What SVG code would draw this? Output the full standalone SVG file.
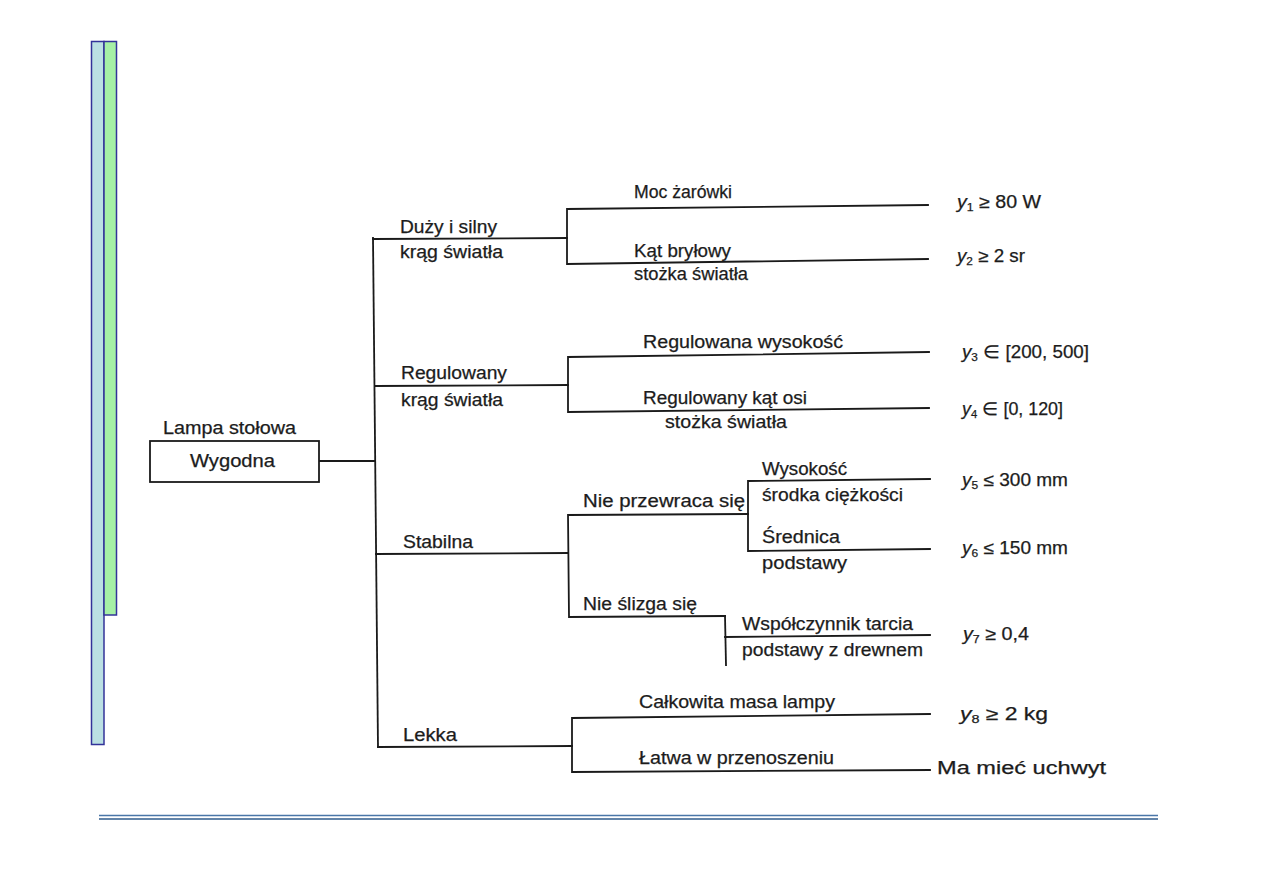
<svg xmlns="http://www.w3.org/2000/svg" width="1263" height="893" viewBox="0 0 1263 893">
<style>
.t{font-family:"Liberation Sans",Arial,Helvetica,sans-serif;font-size:17.5px;fill:#1c1c1c;stroke:#1c1c1c;stroke-width:0.25}
.i{font-style:italic}
.s{font-size:11px}
.ln{stroke:#1a1a1a;stroke-width:1.8;fill:none;stroke-linecap:square}
.bx{stroke:#1a1a1a;stroke-width:1.8;fill:#ffffff}
</style>
<rect width="1263" height="893" fill="#ffffff"/>
<g id="side-bars">
<rect x="91.5" y="41.5" width="12.5" height="703" fill="#bbe0e3" stroke="#333399" stroke-width="1.5"/>
<rect x="104" y="41.5" width="12.5" height="573.5" fill="#a6f0a6" stroke="#333399" stroke-width="1.5"/>
</g>
<g id="footer-rule">
<line x1="99" y1="815.5" x2="1158" y2="815.5" stroke="#4a76a8" stroke-width="1.6"/>
<line x1="99" y1="819" x2="1158" y2="819" stroke="#2f5b8c" stroke-width="1.6"/>
</g>
<g id="connectors">
<polyline class="ln" points="319,461 375,461"/>
<polyline class="ln" points="373,238 378,747"/>
<polyline class="ln" points="373,239 567,238"/>
<polyline class="ln" points="928,205 567,209 567,264 928,259"/>
<polyline class="ln" points="375,386 568,385"/>
<polyline class="ln" points="929,352 568,357 568,412 929,408"/>
<polyline class="ln" points="376,554 568,553"/>
<polyline class="ln" points="748,514 568,515 569,617 725,616"/>
<polyline class="ln" points="930,479 748,481 748,551 930,549"/>
<polyline class="ln" points="725,616 726,665"/>
<polyline class="ln" points="725,637 930,635"/>
<polyline class="ln" points="378,747 572,746"/>
<polyline class="ln" points="930,714 572,718 572,772 930,770"/>
</g>
<g id="root">
<rect class="bx" x="150" y="441" width="169" height="41"/>
<text class="t" x="163" y="434" textLength="133" lengthAdjust="spacingAndGlyphs">Lampa stołowa</text>
<text class="t" x="190" y="467" textLength="85" lengthAdjust="spacingAndGlyphs">Wygodna</text>
</g>
<g id="n-duzy">
<text class="t" x="400" y="233" textLength="97" lengthAdjust="spacingAndGlyphs">Duży i silny</text>
<text class="t" x="400" y="258" textLength="103" lengthAdjust="spacingAndGlyphs">krąg światła</text>
</g>
<g id="n-moc">
<text class="t" x="634" y="198" textLength="98" lengthAdjust="spacingAndGlyphs">Moc żarówki</text>
</g>
<g id="n-kat">
<text class="t" x="634" y="257" textLength="97" lengthAdjust="spacingAndGlyphs">Kąt bryłowy</text>
<text class="t" x="634" y="280" textLength="114" lengthAdjust="spacingAndGlyphs">stożka światła</text>
</g>
<g id="r-y1"><text class="t" x="957" y="208" textLength="84" lengthAdjust="spacingAndGlyphs"><tspan class="i">y</tspan><tspan class="s" dy="3">1</tspan><tspan dy="-3"> ≥ 80 W</tspan></text></g>
<g id="r-y2"><text class="t" x="957" y="262" textLength="68" lengthAdjust="spacingAndGlyphs"><tspan class="i">y</tspan><tspan class="s" dy="3">2</tspan><tspan dy="-3"> ≥ 2 sr</tspan></text></g>
<g id="n-regulowany">
<text class="t" x="401" y="379" textLength="106" lengthAdjust="spacingAndGlyphs">Regulowany</text>
<text class="t" x="401" y="406" textLength="102" lengthAdjust="spacingAndGlyphs">krąg światła</text>
</g>
<g id="n-wysokosc">
<text class="t" x="643" y="348" textLength="200" lengthAdjust="spacingAndGlyphs">Regulowana wysokość</text>
</g>
<g id="n-katosi">
<text class="t" x="643" y="404" textLength="164" lengthAdjust="spacingAndGlyphs">Regulowany kąt osi</text>
<text class="t" x="665" y="428" textLength="122" lengthAdjust="spacingAndGlyphs">stożka światła</text>
</g>
<g id="r-y3"><text class="t" x="962" y="358" textLength="127" lengthAdjust="spacingAndGlyphs"><tspan class="i">y</tspan><tspan class="s" dy="3">3</tspan><tspan dy="-3"> ∈ [200, 500]</tspan></text></g>
<g id="r-y4"><text class="t" x="962" y="415" textLength="101" lengthAdjust="spacingAndGlyphs"><tspan class="i">y</tspan><tspan class="s" dy="3">4</tspan><tspan dy="-3"> ∈ [0, 120]</tspan></text></g>
<g id="n-stabilna">
<text class="t" x="403" y="548" textLength="70" lengthAdjust="spacingAndGlyphs">Stabilna</text>
</g>
<g id="n-nieprzewraca">
<text class="t" x="583" y="507" textLength="162" lengthAdjust="spacingAndGlyphs">Nie przewraca się</text>
</g>
<g id="n-wysokoscsrodka">
<text class="t" x="762" y="475" textLength="85" lengthAdjust="spacingAndGlyphs">Wysokość</text>
<text class="t" x="762" y="501" textLength="141" lengthAdjust="spacingAndGlyphs">środka ciężkości</text>
</g>
<g id="n-srednica">
<text class="t" x="762" y="543" textLength="78" lengthAdjust="spacingAndGlyphs">Średnica</text>
<text class="t" x="762" y="569" textLength="85" lengthAdjust="spacingAndGlyphs">podstawy</text>
</g>
<g id="r-y5"><text class="t" x="962" y="486" textLength="106" lengthAdjust="spacingAndGlyphs"><tspan class="i">y</tspan><tspan class="s" dy="3">5</tspan><tspan dy="-3"> ≤ 300 mm</tspan></text></g>
<g id="r-y6"><text class="t" x="962" y="554" textLength="106" lengthAdjust="spacingAndGlyphs"><tspan class="i">y</tspan><tspan class="s" dy="3">6</tspan><tspan dy="-3"> ≤ 150 mm</tspan></text></g>
<g id="n-nieslizga">
<text class="t" x="583" y="610" textLength="114" lengthAdjust="spacingAndGlyphs">Nie ślizga się</text>
</g>
<g id="n-wspolczynnik">
<text class="t" x="742" y="630" textLength="171" lengthAdjust="spacingAndGlyphs">Współczynnik tarcia</text>
<text class="t" x="742" y="656" textLength="181" lengthAdjust="spacingAndGlyphs">podstawy z drewnem</text>
</g>
<g id="r-y7"><text class="t" x="963" y="640" textLength="66" lengthAdjust="spacingAndGlyphs"><tspan class="i">y</tspan><tspan class="s" dy="3">7</tspan><tspan dy="-3"> ≥ 0,4</tspan></text></g>
<g id="n-lekka">
<text class="t" x="403" y="741" textLength="54" lengthAdjust="spacingAndGlyphs">Lekka</text>
</g>
<g id="n-masa">
<text class="t" x="639" y="708" textLength="196" lengthAdjust="spacingAndGlyphs">Całkowita masa lampy</text>
</g>
<g id="n-latwa">
<text class="t" x="639" y="764" textLength="195" lengthAdjust="spacingAndGlyphs">Łatwa w przenoszeniu</text>
</g>
<g id="r-y8"><text class="t" x="960" y="720" textLength="88" lengthAdjust="spacingAndGlyphs"><tspan class="i">y</tspan><tspan class="s" dy="3">8</tspan><tspan dy="-3"> ≥ 2 kg</tspan></text></g>
<g id="r-uchwyt"><text class="t" x="937" y="774" textLength="169" lengthAdjust="spacingAndGlyphs">Ma mieć uchwyt</text></g>
</svg>
